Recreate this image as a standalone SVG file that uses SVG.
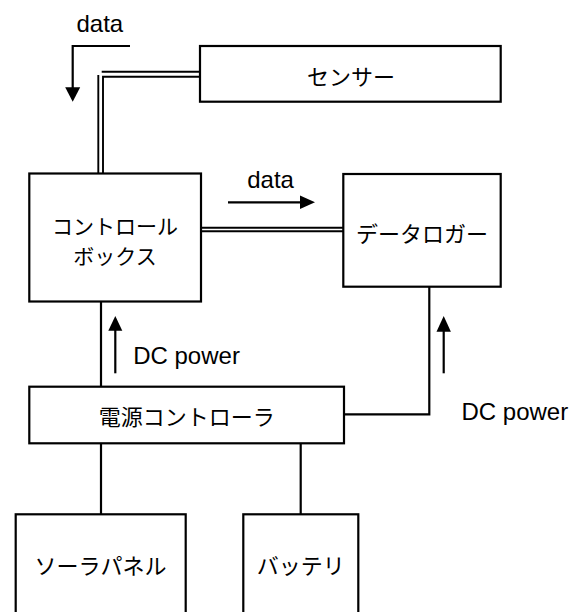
<svg xmlns="http://www.w3.org/2000/svg" width="576" height="612" viewBox="0 0 576 612">
<style>
.box{fill:#fff;stroke:#000;stroke-width:2.2}
.ln{fill:none;stroke:#000;stroke-width:2.2}
.dl{fill:none;stroke:#000;stroke-width:1.9}
.ar{fill:none;stroke:#000;stroke-width:2.2}
.hd{fill:#000;stroke:none}
.jp{font-family:"Noto Sans CJK JP","Noto Sans",sans-serif;font-size:22px;fill:#000;text-anchor:middle}
.en{font-family:"Liberation Sans",Arial,sans-serif;font-size:24px;fill:#000}
</style>
<rect width="576" height="612" fill="#fff"/>
<g id="connectors">
<line class="dl" x1="101.7" y1="71.7" x2="200" y2="71.7"/>
<line class="dl" x1="98.3" y1="75" x2="98.3" y2="173.5"/>
<polyline class="dl" points="200,76.7 103,76.7 103,173.5"/>
<line class="dl" x1="201" y1="227.7" x2="343.3" y2="227.7"/>
<line class="dl" x1="201" y1="231.3" x2="343.3" y2="231.3"/>
<line class="ln" x1="101" y1="301.5" x2="101" y2="386.7"/>
<polyline class="ln" points="429.3,286.7 429.3,414.3 344,414.3"/>
<line class="ln" x1="101" y1="443.3" x2="101" y2="514.3"/>
<line class="ln" x1="300.7" y1="443.3" x2="300.7" y2="514.3"/>
</g>
<g id="flow-arrows">
<polyline class="ar" points="130,46 72.7,46 72.7,89"/>
<polygon class="hd" points="65.2,87.3 80.2,87.3 72.7,101.7"/>
<line class="ar" x1="228" y1="202.3" x2="302" y2="202.3"/>
<polygon class="hd" points="300,195.5 300,209.1 315,202.3"/>
<line class="ar" x1="115.3" y1="373.3" x2="115.3" y2="329"/>
<polygon class="hd" points="108.3,330.7 122.3,330.7 115.3,316"/>
<line class="ar" x1="443.7" y1="373.3" x2="443.7" y2="330"/>
<polygon class="hd" points="436.5,331.7 450.9,331.7 443.7,316"/>
</g>
<g id="labels">
<text class="en" x="76.5" y="32.3">data</text>
<text class="en" x="247.2" y="187.7">data</text>
<text class="en" x="133.2" y="364">DC power</text>
<text class="en" x="461.5" y="420">DC power</text>
</g>
<g id="sensor">
<rect class="box" x="200" y="46" width="300.7" height="55.7"/>
<text class="jp" x="351" y="85">センサー</text>
</g>
<g id="controlbox">
<rect class="box" x="29.3" y="173.5" width="171.7" height="128"/>
<text class="jp" x="115" y="233.5" style="font-size:21px">コントロール</text>
<text class="jp" x="115" y="263.5" style="font-size:21px">ボックス</text>
</g>
<g id="datalogger">
<rect class="box" x="343.3" y="174" width="157.4" height="112.7"/>
<text class="jp" x="422" y="241.5">データロガー</text>
</g>
<g id="powercontroller">
<rect class="box" x="29.3" y="386.7" width="314.7" height="56.6"/>
<text class="jp" x="186.8" y="424.5">電源コントローラ</text>
</g>
<g id="solarpanel">
<rect class="box" x="15.7" y="514.3" width="170" height="110"/>
<text class="jp" x="100.5" y="573.5">ソーラパネル</text>
</g>
<g id="battery">
<rect class="box" x="243.3" y="514.3" width="115" height="110"/>
<text class="jp" x="300.8" y="573.5">バッテリ</text>
</g>
</svg>
